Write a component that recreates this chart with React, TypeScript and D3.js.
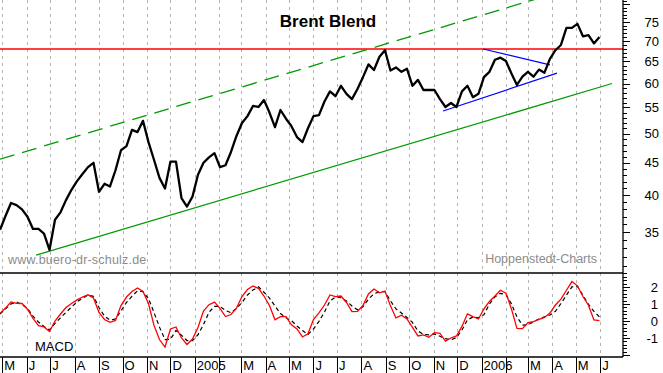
import React from "react";
import * as d3 from "d3";

// ---- data (weekly samples) ----
const startDate = "2004-04-28";
const endDate = "2006-06-30";

const brentPrice = [
  35.3, 37.1, 38.9, 38.6, 38.0, 37.0, 35.4, 35.4, 34.8, 32.8,
  36.6, 37.6, 39.3, 40.8, 42.1, 43.2, 44.3, 45.0, 40.5, 41.7,
  41.3, 43.8, 47.1, 47.8, 50.7, 50.3, 52.4, 48.5, 45.5, 42.6,
  41.0, 45.2, 45.2, 39.6, 38.4, 39.8, 43.1, 45.0, 45.9, 46.6,
  44.3, 44.6, 46.8, 49.6, 52.0, 53.3, 55.3, 55.1, 56.5, 54.0,
  51.2, 54.5, 52.8, 51.4, 49.4, 48.5, 51.0, 53.3, 53.5, 56.2,
  58.3, 57.3, 59.5, 57.8, 56.7, 58.8, 61.4, 64.3, 63.0, 66.1,
  67.7, 62.9, 63.6, 62.6, 63.3, 59.5, 60.8, 58.6, 58.6, 58.6,
  56.7, 55.1, 55.9, 55.1, 58.3, 59.5, 57.1, 57.8, 61.4, 62.6,
  65.4, 65.9, 65.1, 62.2, 59.7, 61.5, 62.6, 61.5, 63.1, 62.4,
  65.6, 67.7, 69.0, 73.4, 73.4, 74.5, 71.2, 71.5, 69.4, 71.0,
];

const macdValues = [
  0.45, 0.76, 1.12, 1.04, 1.03, 0.69, 0.15, -0.28, -0.35, -0.62,
  0.0, 0.41, 0.79, 1.03, 1.24, 1.41, 1.54, 1.35, 0.5, 0.09,
  -0.08, 0.03, 0.91, 1.41, 1.74, 1.94, 1.74, 1.03, -0.26, -1.09,
  -1.53, -0.47, -0.35, -1.0, -1.38, -1.06, -0.38, 0.59, 0.96, 1.11,
  0.74, 0.26, 0.38, 0.76, 1.44, 1.85, 2.06, 1.92, 1.47, 0.91,
  0.07, 0.26, 0.26, -0.22, -0.47, -0.94, -0.75, 0.09, 0.48, 0.94,
  1.53, 1.43, 1.47, 1.09, 0.55, 0.56, 0.91, 1.59, 1.88, 1.66,
  1.76, 0.89, 0.18, 0.34, 0.12, -0.38, -0.88, -0.82, -0.96, -0.68,
  -0.72, -1.18, -1.0, -0.88, -0.32, 0.42, 0.26, 0.12, 0.71, 1.15,
  1.47, 1.81, 1.64, 0.71, -0.44, -0.45, -0.09, -0.04, 0.09, 0.21,
  0.47, 0.94, 1.29, 1.81, 2.32, 2.07, 1.44, 0.93, 0.06, 0.02,
];

const signalValues = [
  0.41, 0.71, 1.0, 1.12, 0.97, 0.74, 0.28, -0.06, -0.32, -0.52,
  -0.14, 0.18, 0.51, 0.82, 1.12, 1.35, 1.52, 1.46, 0.79, 0.29,
  0.05, 0.12, 0.59, 1.09, 1.46, 1.77, 1.73, 1.32, 0.5, -0.36,
  -1.09, -1.07, -0.56, -0.84, -1.15, -1.15, -0.81, -0.21, 0.51, 0.86,
  0.86, 0.62, 0.49, 0.74, 1.09, 1.53, 1.82, 2.01, 1.69, 1.35,
  0.88, 0.44, 0.19, 0.02, -0.29, -0.56, -0.79, -0.47, -0.02, 0.52,
  1.18, 1.41, 1.37, 1.18, 0.88, 0.66, 0.84, 1.29, 1.6, 1.72,
  1.72, 1.19, 0.71, 0.47, 0.21, -0.08, -0.59, -0.78, -0.82, -0.76,
  -0.9, -1.04, -1.11, -0.97, -0.53, 0.06, 0.24, 0.19, 0.37, 1.0,
  1.42, 1.63, 1.56, 1.01, 0.24, -0.24, -0.22, -0.05, 0.12, 0.24,
  0.35, 0.57, 1.03, 1.52, 2.01, 2.04, 1.51, 0.98, 0.57, 0.24,
];

const resistanceLevel = 68;
const channelLower = [
  { date: "2004-06-13", value: 32.2 },
  { date: "2006-06-16", value: 60.0 },
];
const channelUpper = [
  { date: "2004-04-28", value: 45.6 },
  { date: "2006-03-17", value: 81.9 },
];
const triangleUpper = [
  { date: "2006-01-03", value: 68.0 },
  { date: "2006-03-29", value: 64.2 },
];
const triangleLower = [
  { date: "2005-11-13", value: 54.3 },
  { date: "2006-04-07", value: 62.3 },
];

const priceTickLabels = [35, 40, 45, 50, 55, 60, 65, 70, 75];
const macdTickLabels = [2, 1, 0, -1];
const monthLabels = [
  "M", "J", "J", "A", "S", "O", "N", "D", "2005", "", "M", "A", "M",
  "J", "J", "A", "S", "O", "N", "D", "2006", "", "M", "A", "M", "J",
];

const title = "Brent Blend";
const sourceLeft = "www.buero-dr-schulz.de";
const sourceRight = "Hoppenstedt-Charts";
const macdLabel = "MACD";

// ---- layout ----
const W = 663;
const H = 373;
const plotRight = 623;
const mainTop = 0;
const mainBottom = 273;
const macdBottom = 357;
const FONT = "'Liberation Sans', Arial, Helvetica, sans-serif";

export default function App() {
  const parse = d3.timeParse("%Y-%m-%d");
  const t0 = parse(startDate)!;
  const t1 = parse(endDate)!;
  const x = d3.scaleTime().domain([t0, t1]).range([0, plotRight]);
  const y = d3.scaleLog().domain([30.17, 81.23]).range([mainBottom, mainTop]);
  const ym = d3.scaleLinear().domain([-36 / 17, 48 / 17]).range([macdBottom, mainBottom]);

  const dates = brentPrice.map((_, i) => d3.timeDay.offset(t0, 7 * i));

  const priceLine = d3
    .line<number>()
    .x((_, i) => x(dates[i]))
    .y((d) => y(d));
  const macdLine = d3
    .line<number>()
    .x((_, i) => x(dates[i]))
    .y((d) => ym(d));

  const seg = (pts: { date: string; value: number }[]) =>
    d3
      .line<{ date: string; value: number }>()
      .x((d) => x(parse(d.date)!))
      .y((d) => y(d.value))(pts) || "";

  const months = d3.timeMonth.range(new Date(2004, 4, 1), new Date(2006, 6, 1));

  const priceTicks = d3.range(31, 82);
  const macdTicks = d3.range(-10, 15).map((k) => k / 5);

  return (
    <svg
      width={W}
      height={H}
      style={{ position: "absolute", left: 0, top: 0, background: "#fff" }}
      fontFamily={FONT}
    >
      <defs>
        <clipPath id="clipMain">
          <rect x={0} y={mainTop} width={plotRight} height={mainBottom - mainTop} />
        </clipPath>
        <clipPath id="clipMacd">
          <rect x={0} y={mainBottom} width={plotRight} height={macdBottom - mainBottom} />
        </clipPath>
      </defs>
      <rect x={0} y={0} width={W} height={H} fill="#fff" />

      {/* vertical month grid */}
      {months.map((m, i) => (
        <line
          key={"g" + i}
          x1={Math.round(x(m)) + 0.5}
          x2={Math.round(x(m)) + 0.5}
          y1={0}
          y2={macdBottom}
          stroke="#b4b4b4"
          strokeWidth={1}
          strokeDasharray="3,4"
        />
      ))}

      {/* main panel */}
      <g clipPath="url(#clipMain)">
        <line
          x1={0}
          x2={plotRight}
          y1={y(resistanceLevel)}
          y2={y(resistanceLevel)}
          stroke="#ff0000"
          strokeWidth={1.3}
        />
        <path d={seg(channelUpper)} stroke="#009a00" strokeWidth={1.3} fill="none" strokeDasharray="15,8" />
        <path d={seg(channelLower)} stroke="#009a00" strokeWidth={1.3} fill="none" />
        <path d={seg(triangleUpper)} stroke="#0000ff" strokeWidth={1.2} fill="none" />
        <path d={seg(triangleLower)} stroke="#0000ff" strokeWidth={1.2} fill="none" />
        <path
          d={priceLine(brentPrice) || ""}
          stroke="#000"
          strokeWidth={2.3}
          fill="none"
          strokeLinejoin="round"
        />
      </g>

      <text x={328} y={27} textAnchor="middle" fontSize={17} fontWeight="bold" fill="#000">
        {title}
      </text>
      <text x={8} y={264} fontSize={12.5} fill="#8c8c8c" letterSpacing={0.2}>
        {sourceLeft}
      </text>
      <text x={597} y={263} fontSize={12.5} fill="#8c8c8c" textAnchor="end">
        {sourceRight}
      </text>

      {/* MACD panel */}
      <g clipPath="url(#clipMacd)">
        <path
          d={macdLine(signalValues) || ""}
          stroke="#000"
          strokeWidth={1.2}
          fill="none"
          strokeDasharray="4,3"
        />
        <path d={macdLine(macdValues) || ""} stroke="#ff0000" strokeWidth={1.3} fill="none" />
      </g>
      <text x={35} y={351} fontSize={13} fill="#000">
        {macdLabel}
      </text>

      {/* frame */}
      <line x1={0} x2={plotRight} y1={mainBottom} y2={mainBottom} stroke="#000" strokeWidth={1.3} />
      <line x1={0} x2={plotRight} y1={macdBottom} y2={macdBottom} stroke="#000" strokeWidth={1.3} />
      <line x1={plotRight} x2={plotRight} y1={0} y2={macdBottom} stroke="#000" strokeWidth={1.3} />

      {/* price axis */}
      {priceTicks.map((v) => (
        <line
          key={"pt" + v}
          x1={plotRight}
          x2={plotRight + (v % 5 === 0 ? 7 : 4)}
          y1={Math.round(y(v)) + 0.5}
          y2={Math.round(y(v)) + 0.5}
          stroke="#000"
          strokeWidth={1}
        />
      ))}
      {priceTickLabels.map((v) => (
        <text key={"pl" + v} x={659} y={y(v)} dy="0.36em" textAnchor="end" fontSize={13} fill="#000">
          {v}
        </text>
      ))}

      {/* macd axis */}
      {macdTicks.map((v, i) => (
        <line
          key={"mt" + i}
          x1={plotRight}
          x2={plotRight + (Math.abs(v - Math.round(v)) < 1e-6 ? 7 : 4)}
          y1={Math.round(ym(v)) + 0.5}
          y2={Math.round(ym(v)) + 0.5}
          stroke="#000"
          strokeWidth={1}
        />
      ))}
      {macdTickLabels.map((v) => (
        <text key={"ml" + v} x={658} y={ym(v)} dy="0.36em" textAnchor="end" fontSize={13} fill="#000">
          {v}
        </text>
      ))}

      {/* time axis */}
      {months.map((m, i) => (
        <g key={"xt" + i}>
          <line
            x1={Math.round(x(m)) + 0.5}
            x2={Math.round(x(m)) + 0.5}
            y1={macdBottom}
            y2={H}
            stroke="#000"
            strokeWidth={1}
          />
          <text x={x(m) + 2} y={370} fontSize={13} fill="#000">
            {monthLabels[i]}
          </text>
        </g>
      ))}
    </svg>
  );
}
